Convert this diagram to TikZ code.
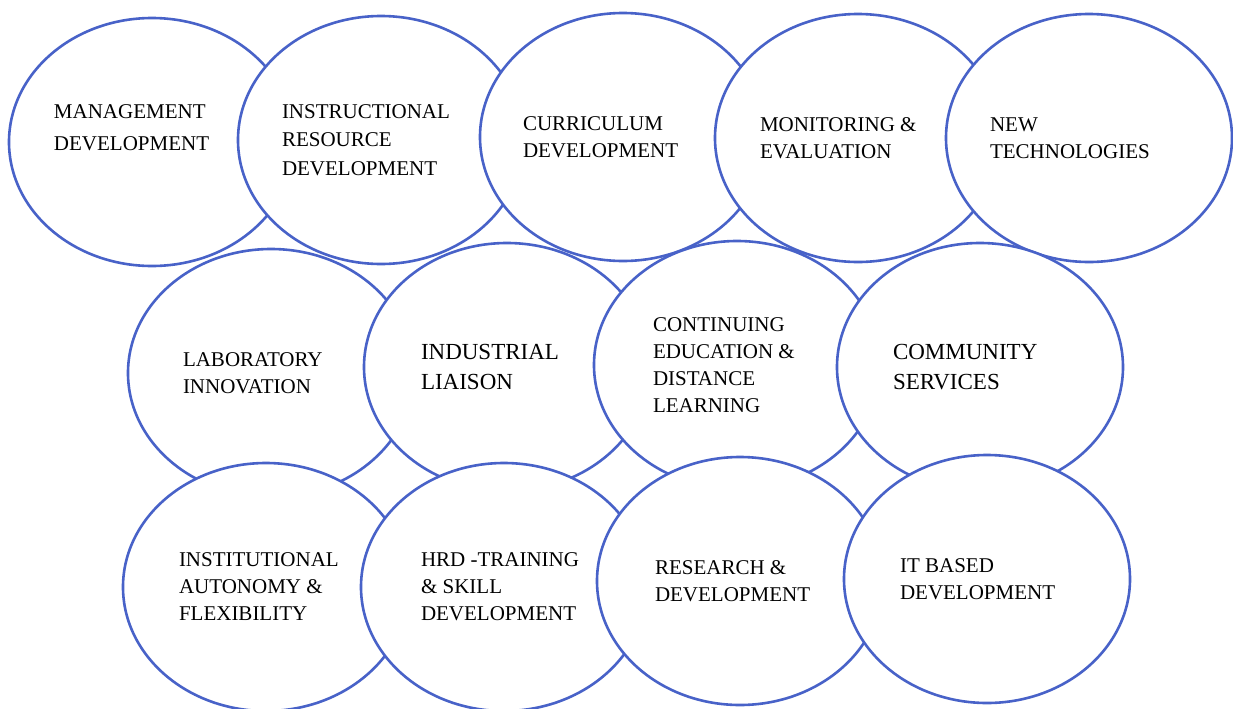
\documentclass[tikz,border=0pt]{standalone}
\usepackage{fontspec}
\setmainfont{Liberation Serif}
\usetikzlibrary{positioning,shapes.geometric}

\definecolor{ringblue}{RGB}{72,98,200}

\tikzset{
  blob/.style={ellipse, draw=ringblue, line width=1.3pt, fill=white,
    minimum width=143pt, minimum height=124pt, inner sep=0pt, outer sep=0pt},
  lbl/.style={align=left, inner sep=0pt, outer sep=0pt,
    font=\fontsize{10.5}{13.5}\selectfont},
  biglbl/.style={lbl, font=\fontsize{11.5}{15.25}\selectfont}
}

\begin{document}
\begin{tikzpicture}[x=0.5pt,y=-0.5pt]
  \useasboundingbox (0,0) rectangle (1233,708);
  % rings, drawn row by row so that each one covers its left neighbour
  \foreach \x/\y/\nm in {152/142/mgmt, 381/140/instr, 623/137/curr, 858/138/monit, 1089/138/newtech,
                         271/373/lab, 507/367/indus, 737/365/conted, 980/367/comm,
                         266/587/inst, 504/587/hrd, 740/581/rnd, 987/579/itdev}
    {\node[blob] (\nm) at (\x,\y) {};}
  % labels
  \node[lbl, right=22.5pt of mgmt.west, yshift=7pt, font=\fontsize{10.5}{16}\selectfont] (mgmt-lbl) {MANAGEMENT\\DEVELOPMENT};
  \node[lbl, right=22pt of instr.west, font=\fontsize{10.5}{14.25}\selectfont] (instr-lbl) {INSTRUCTIONAL\\RESOURCE\\DEVELOPMENT};
  \foreach \nm/\d/\txt in {curr/21.5pt/{CURRICULUM\\DEVELOPMENT}, monit/22.5pt/{MONITORING \&\\EVALUATION},
                           newtech/22pt/{NEW\\TECHNOLOGIES}, lab/27.5pt/{LABORATORY\\INNOVATION},
                           conted/29.5pt/{CONTINUING\\EDUCATION \&\\DISTANCE\\LEARNING},
                           inst/28pt/{INSTITUTIONAL\\AUTONOMY \&\\FLEXIBILITY},
                           hrd/30pt/{HRD -TRAINING\\\& SKILL\\DEVELOPMENT},
                           rnd/29pt/{RESEARCH \&\\DEVELOPMENT}, itdev/28pt/{IT BASED\\DEVELOPMENT}}
    {\node[lbl, right=\d of \nm.west] (\nm-lbl) {\txt};}
  \foreach \nm/\d/\txt in {indus/28.5pt/{INDUSTRIAL\\LIAISON}, comm/28pt/{COMMUNITY\\SERVICES}}
    {\node[biglbl, right=\d of \nm.west] (\nm-lbl) {\txt};}
\end{tikzpicture}
\end{document}
